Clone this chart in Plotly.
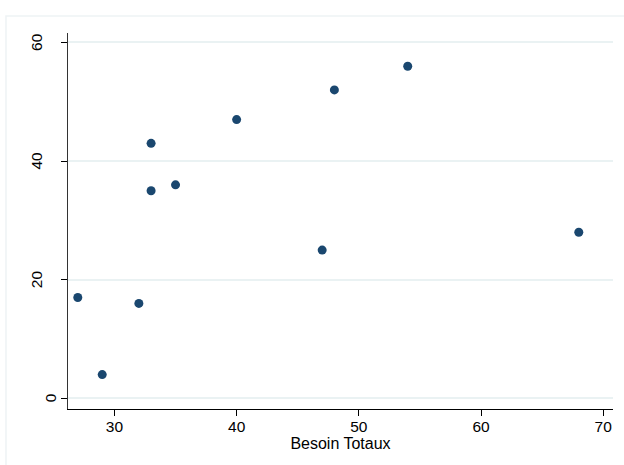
import plotly.graph_objects as go

# Observations: total need vs. the plotted outcome
besoin_totaux = [27, 29, 32, 33, 33, 35, 40, 47, 48, 54, 68]
valeurs = [17, 4, 16, 43, 35, 36, 47, 25, 52, 56, 28]

x_ticks = [30, 40, 50, 60, 70]
y_ticks = [0, 20, 40, 60]

NAVY = "#1a476f"
GRID = "#eaf2f3"
FONT = "Liberation Sans, Arial, sans-serif"

fig = go.Figure(
    go.Scatter(
        x=besoin_totaux,
        y=valeurs,
        mode="markers",
        marker=dict(color=NAVY, size=9, line=dict(width=0)),
        showlegend=False,
        hoverinfo="x+y",
    )
)

fig.update_layout(
    width=624,
    height=465,
    margin=dict(l=68, r=11, t=33, b=56),
    paper_bgcolor="white",
    plot_bgcolor="white",
    font=dict(family=FONT, size=15.5, color="#000"),
)

fig.update_xaxes(
    range=[26.2, 70.8],
    tickvals=x_ticks,
    ticks="outside",
    ticklen=6,
    tickcolor="#000",
    tickwidth=1,
    ticklabelstandoff=-3,
    showgrid=False,
    zeroline=False,
    showline=True,
    linecolor="#000",
    linewidth=1,
    title=dict(text="Besoin Totaux", font=dict(size=16), standoff=0),
)

# y tick labels are drawn as rotated annotations below
fig.update_yaxes(
    range=[-1.8, 61.6],
    tickvals=y_ticks,
    showticklabels=False,
    ticks="outside",
    ticklen=6,
    tickcolor="#000",
    tickwidth=1,
    showgrid=True,
    gridcolor=GRID,
    gridwidth=1.5,
    zeroline=False,
    showline=True,
    linecolor="#333",
    linewidth=1,
)

for v in y_ticks:
    label = str(v)
    fig.add_annotation(
        x=0, xref="paper",
        y=v, yref="y",
        text=label,
        textangle=-90,
        showarrow=False,
        xanchor="center",
        yanchor="middle",
        xshift=-18 if len(label) == 1 else -31.5,
        font=dict(family=FONT, size=15.5, color="#000"),
    )

# Faint outer graph-region frame
fig.add_shape(
    type="rect",
    xref="paper", yref="paper",
    x0=-0.1138, x1=1.2, y0=-0.3, y1=1.0452,
    line=dict(color="#eef3f5", width=1.5),
    fillcolor="rgba(0,0,0,0)",
    layer="below",
)

fig.write_html("out.html")
